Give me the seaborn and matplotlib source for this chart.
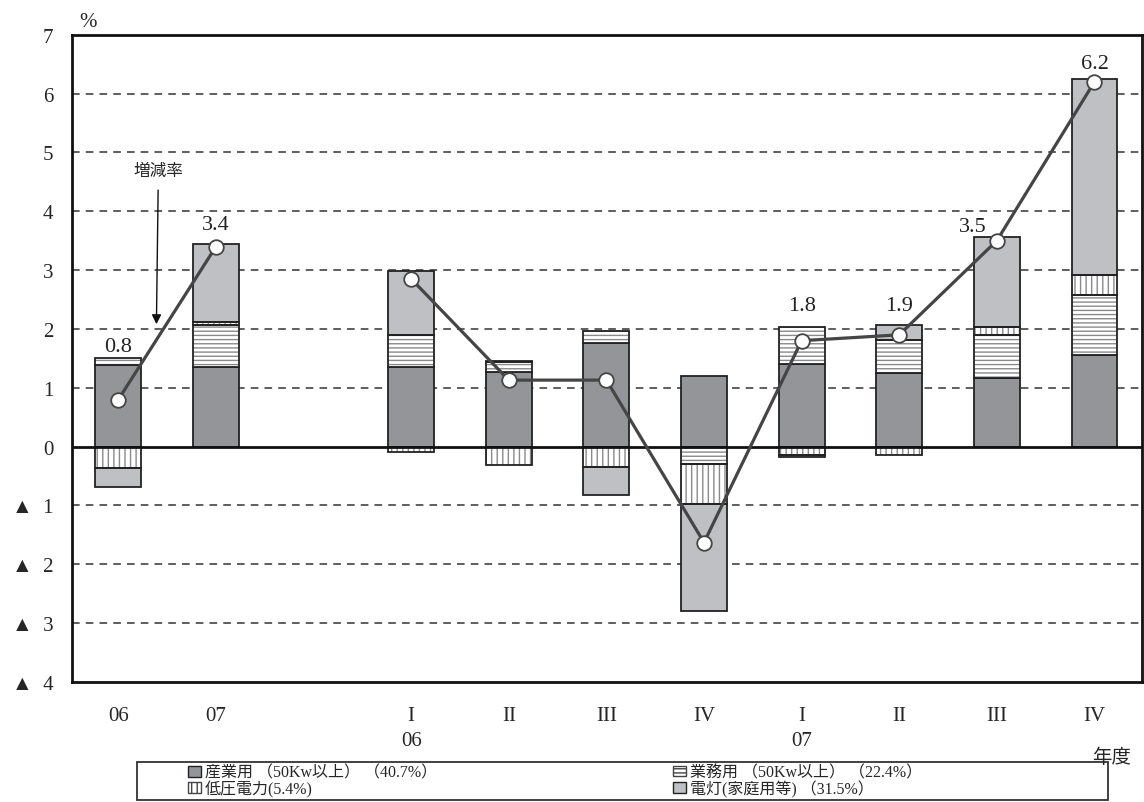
import numpy as np
import pandas as pd
import matplotlib
matplotlib.use("Agg")
import matplotlib.pyplot as plt
from matplotlib.patches import Patch, Rectangle
import seaborn as sns

# ---- data -------------------------------------------------------------
periods = ["06", "07", "I", "II", "III", "IV", "I", "II", "III", "IV"]
industrial = [1.38, 1.35, 1.36, 1.27, 1.76, 1.20, 1.41, 1.25, 1.16, 1.55]
commercial = [0.13, 0.72, 0.53, 0.16, 0.21, -0.30, 0.63, 0.56, 0.73, 1.02]
low_voltage = [-0.37, 0.05, -0.10, -0.31, -0.35, -0.68, -0.14, -0.14, 0.15, 0.34]
lighting = [-0.32, 1.33, 1.10, 0.03, -0.47, -1.82, -0.04, 0.26, 1.52, 3.34]
growth = [0.8, 3.4, 2.85, 1.13, 1.13, -1.63, 1.8, 1.9, 3.5, 6.2]
growth_labels = ["0.8", "3.4", "", "", "", "", "1.8", "1.9", "3.5", "6.2"]
segment = ["annual", "annual", "q", "q", "q", "q", "q", "q", "q", "q"]
year_labels = ["06", "07"]
legend_labels = ["産業用 （50Kw以上） （40.7%）", "業務用 （50Kw以上） （22.4%）",
                 "低圧電力(5.4%)", "電灯(家庭用等) （31.5%）"]
y_ticks = [7, 6, 5, 4, 3, 2, 1, 0, -1, -2, -3, -4]

# ---- style ------------------------------------------------------------
sns.set_theme(style="white")
SERIF = ["Liberation Serif", "Noto Sans CJK JP", "DejaVu Sans"]
plt.rcParams["font.family"] = SERIF
plt.rcParams["hatch.linewidth"] = 1.0

DARK = "#949599"
LIGHT = "#bfc0c4"
HATCH_C = "#8a8a8a"
LINE_C = "#454545"

fig = plt.figure(figsize=(11.44, 8.03), dpi=100)
ax = fig.add_axes([0.0625, 0.1495, 0.936, 0.806])

n = len(periods)
x = np.arange(n) + (np.arange(n) >= 2).astype(int)  # gap between annual and quarterly
width = 0.47

series = [
    (industrial, dict(color=DARK)),
    (commercial, dict(color="white", hatch="----")),
    (low_voltage, dict(color="white", hatch="|||")),
    (lighting, dict(color=LIGHT)),
]

pos_base = np.zeros(n)
neg_base = np.zeros(n)
for vals, st in series:
    v = np.asarray(vals, dtype=float)
    bottoms = np.where(v >= 0, pos_base, neg_base)
    hatch = st.get("hatch")
    if hatch:
        ax.bar(x, v, width, bottom=bottoms, color="white", edgecolor=HATCH_C,
               hatch=hatch, linewidth=0, zorder=2)
        ax.bar(x, v, width, bottom=bottoms, fill=False, edgecolor="#222222",
               linewidth=1.3, zorder=2.1)
    else:
        ax.bar(x, v, width, bottom=bottoms, color=st["color"], edgecolor="#222222",
               linewidth=1.3, zorder=2)
    pos_base = np.where(v >= 0, pos_base + v, pos_base)
    neg_base = np.where(v < 0, neg_base + v, neg_base)

# ---- growth line ------------------------------------------------------
df = pd.DataFrame({"x": x, "growth": growth, "seg": segment})
sns.lineplot(data=df, x="x", y="growth", units="seg", estimator=None,
             color=LINE_C, linewidth=2.3, ax=ax, zorder=4, legend=False)
sns.scatterplot(data=df, x="x", y="growth", s=110, color="white",
                edgecolor=LINE_C, linewidth=1.3, ax=ax, zorder=5, legend=False)

# value labels above the bars
offsets = [(0, 1), (0, 7), (0, 0), (0, 0), (0, 0), (0, 0),
           (0, 8), (0, 7), (-17, 1), (0, 4)]
for i, lab in enumerate(growth_labels):
    if not lab:
        continue
    top = max(pos_base[i], growth[i])
    ax.annotate(lab, (x[i], top), xytext=offsets[i], textcoords="offset points",
                ha="center", va="bottom", fontsize=16, color="#222222", zorder=6)

# annotation arrow for the growth line
ax.annotate("増減率", xy=(0.39, 2.08), xytext=(0.41, 4.70),
            ha="center", va="center", fontsize=12,
            family=["Noto Sans CJK JP"],
            arrowprops=dict(arrowstyle="-|>", color="#111111", lw=1.0,
                            mutation_scale=14, shrinkA=6, shrinkB=0))

# ---- axes ---------------------------------------------------------------
ax.set_xlim(-0.48, 10.49)
ax.set_ylim(-4, 7)
ax.axhline(0, color="#111111", lw=2.0, zorder=3)
for g in [6, 5, 4, 3, 2, 1, -1, -2, -3]:
    ax.axhline(g, color="#333333", lw=1.1, ls=(0, (5, 4)), zorder=0)

ax.set_yticks(y_ticks)
ax.set_yticklabels([str(t) if t >= 0 else f"▲  {-t}" for t in y_ticks],
                   fontsize=15)
ax.set_xticks(x)
ax.set_xticklabels(periods, fontsize=15)
ax.tick_params(axis="both", length=0)
ax.tick_params(axis="y", pad=13)
ax.tick_params(axis="x", pad=17)
ax.set_xlabel("")
ax.set_ylabel("")
for sp in ax.spines.values():
    sp.set_color("#111111")
    sp.set_linewidth(2.0)

# year labels under the quarterly groups
for i, yl in zip([2, 6], year_labels):
    ax.annotate(yl, (x[i], -4), xytext=(0, -35), textcoords="offset points",
                ha="center", va="top", fontsize=15, annotation_clip=False)

fig.text(0.077, 0.972, "%", fontsize=15, ha="center", va="center")
fig.text(0.972, 0.057, "年度", fontsize=14, ha="center", va="center",
         family=["Noto Sans CJK JP"])

# ---- legend ------------------------------------------------------------
handles = [
    Patch(facecolor=DARK, edgecolor="#222222", linewidth=1.0),
    Patch(facecolor="white", edgecolor="#444444", hatch="----", linewidth=1.0),
    Patch(facecolor="white", edgecolor="#444444", hatch="|||", linewidth=1.0),
    Patch(facecolor=LIGHT, edgecolor="#222222", linewidth=1.0),
]
fig.add_artist(Rectangle((137 / 1144, 2 / 803), (1108 - 137) / 1144, 38 / 803,
                         transform=fig.transFigure, fill=False,
                         edgecolor="#333333", linewidth=1.3))
leg_kw = dict(frameon=False, fontsize=11.5, handlelength=0.8, handleheight=0.65,
              handletextpad=0.25, labelspacing=-0.05, borderpad=0.0,
              loc="center left")
leg1 = fig.legend([handles[0], handles[2]], [legend_labels[0], legend_labels[2]],
                  bbox_to_anchor=(180 / 1144, 21 / 803), **leg_kw)
leg2 = fig.legend([handles[1], handles[3]], [legend_labels[1], legend_labels[3]],
                  bbox_to_anchor=(665 / 1144, 21 / 803), **leg_kw)

fig.savefig("out.png", dpi=100)
